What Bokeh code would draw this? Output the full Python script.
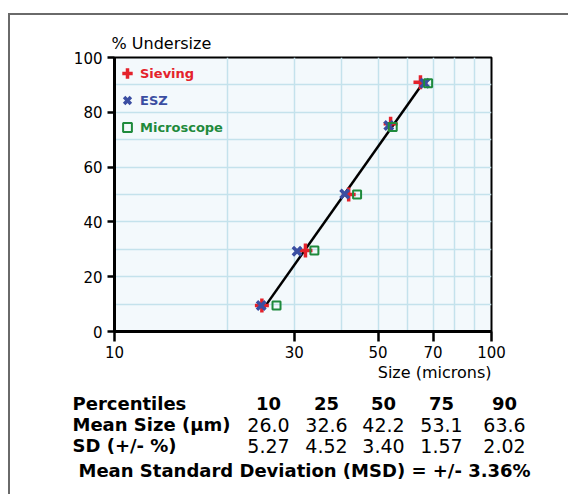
from bokeh.plotting import figure
from bokeh.layouts import column
from bokeh.models import (Range1d, FixedTicker, NumeralTickFormatter, Legend, LegendItem,
                          Title, ColumnDataSource)
from bokeh.core.properties import value
from bokeh.embed import file_html
from bokeh.resources import INLINE

# ---------------- data ----------------
sieving_size = [24.6, 32.1, 41.8, 54.0, 64.8]
sieving_pct = [9.5, 29.6, 50.0, 75.8, 91.0]
esz_size = [24.5, 30.5, 40.8, 53.4, 66.5]
esz_pct = [9.5, 29.3, 50.2, 75.2, 90.6]
micro_size = [26.9, 33.9, 44.0, 54.7, 67.9]
micro_pct = [9.5, 29.6, 50.0, 74.6, 90.6]
fit_size = [25.0, 65.6]
fit_pct = [8.9, 90.4]

x_ticks = [10, 30, 50, 70, 100]
x_grid = [20, 30, 40, 50, 60, 70, 80, 90]
y_ticks = [0, 20, 40, 60, 80, 100]
y_grid = [10, 20, 30, 40, 50, 60, 70, 80, 90]

percentiles = ["10", "25", "50", "75", "90"]
mean_size = ["26.0", "32.6", "42.2", "53.1", "63.6"]
sd_pct = ["5.27", "4.52", "3.40", "1.57", "2.02"]
row_heads = ["Percentiles", "Mean Size (\u03bcm)", "SD (+/- %)"]
msd_text = "Mean Standard Deviation (MSD) = +/- 3.36%"

RED, BLUE, GREEN = "#e4222b", "#3b4ea2", "#1f8a3c"
FONT = "DejaVu Sans"

# ---------------- layout (page pixels) ----------------
OX, OY = 10, 15            # inner origin of the bordered box
W1, H1 = 558, 370          # chart canvas
W2, H2 = 558, 109          # table canvas
F_L, F_R, F_T, F_B = 114, 491, 57, 331   # plot frame, page px

p = figure(width=W1, height=H1, x_axis_type="log", output_backend="svg",
           toolbar_location=None, x_range=Range1d(10, 100), y_range=Range1d(0, 100),
           min_border_left=F_L - OX, min_border_right=W1 - (F_R - OX),
           min_border_top=F_T - OY, min_border_bottom=H1 - (F_B - OY))
p.frame_align = False
p.background_fill_color = "#f3f9fc"
p.border_fill_color = "white"
p.outline_line_color = "black"
p.outline_line_width = 2

for ax in (p.xaxis[0], p.yaxis[0]):
    ax.axis_line_width = 3
    ax.axis_line_color = "black"
    ax.major_tick_line_width = 2.5
    ax.major_tick_in = 0
    ax.minor_tick_line_color = None
    ax.major_label_text_font = FONT
    ax.major_label_text_font_size = "15px"
    ax.major_label_text_color = "black"

p.xaxis.ticker = FixedTicker(ticks=x_ticks, minor_ticks=[])
p.xaxis.formatter = NumeralTickFormatter(format="0")
p.xaxis.major_tick_out = 10
p.xaxis.major_label_standoff = 4
p.yaxis.ticker = FixedTicker(ticks=y_ticks, minor_ticks=[])
p.yaxis.major_tick_out = 7
p.yaxis.major_label_standoff = 5

p.xgrid.ticker = FixedTicker(ticks=x_grid)
p.ygrid.ticker = FixedTicker(ticks=y_grid)
for g in (p.xgrid[0], p.ygrid[0]):
    g.grid_line_color = "#c4e2ec"
    g.grid_line_width = 1.5

# fitted line
p.line(fit_size, fit_pct, line_color="black", line_width=2.5)

r_s = p.scatter(sieving_size, sieving_pct, marker="cross", size=14, line_width=3.5,
                line_color=RED)
r_e = p.scatter(esz_size, esz_pct, marker="x", size=12, line_width=3.5, line_color=BLUE)
r_m = p.scatter(micro_size, micro_pct, marker="square", size=8, line_width=2,
                line_color=GREEN, fill_color=None)

frame_h = F_B - F_T
for i, (lab, rend, col, gb) in enumerate([("Sieving", r_s, RED, 26),
                                          ("ESZ", r_e, BLUE, 24),
                                          ("Microscope", r_m, GREEN, 22)]):
    cy = 73 + i * 27 - F_T            # item centre below frame top
    left = 13 - gb // 2
    leg = Legend(items=[LegendItem(label=lab, renderers=[rend])],
                 location=(left, frame_h - (cy + gb / 2)))
    leg.background_fill_alpha = 0
    leg.border_line_alpha = 0
    leg.padding = 0
    leg.margin = 0
    leg.spacing = 0
    leg.glyph_width = gb
    leg.glyph_height = gb
    leg.label_height = gb
    leg.label_standoff = 26 - left - gb
    leg.label_text_font = FONT
    leg.label_text_font_size = "13px"
    leg.label_text_font_style = "bold"
    leg.label_text_color = col
    leg.label_text_baseline = "middle"
    p.add_layout(leg)

# axis titles
t_top = Title(text="% Undersize", align="left", offset=-3, standoff=9,
              text_font=FONT, text_font_size="16px", text_font_style="normal",
              text_color="black")
p.add_layout(t_top, "above")
t_bot = Title(text="Size (microns)", align="right", offset=0, standoff=0,
              text_font=FONT, text_font_size="16px", text_font_style="normal",
              text_color="black")
p.add_layout(t_bot, "below")

# ---------------- table ----------------
q = figure(width=W2, height=H2, output_backend="svg", toolbar_location=None,
           x_range=Range1d(0, W2), y_range=Range1d(H2, 0),
           x_axis_location=None, y_axis_location=None,
           min_border=0, min_border_left=0, min_border_right=0,
           min_border_top=0, min_border_bottom=0)
q.frame_align = False
q.outline_line_color = None
q.grid.visible = False
q.background_fill_color = "white"
q.border_fill_color = "white"

top2 = OY + H1               # page y of table canvas top
col_cx = [c - OX for c in [268, 326, 383, 441, 504]]
row_mid = [r - top2 for r in [403, 424, 445]]
head_x = 72 - OX

q.text(x=[head_x] * 3, y=row_mid, text=row_heads, text_font=value(FONT),
       text_font_size="18px", text_font_style="bold", text_baseline="middle",
       text_align="left", text_color="black")
for rm, vals, style, fs in zip(row_mid, [percentiles, mean_size, sd_pct],
                               ["bold", "normal", "normal"], ["18px", "19px", "19px"]):
    src = ColumnDataSource(dict(x=col_cx, y=[rm] * len(vals), t=vals))
    q.text(x="x", y="y", text="t", source=src, text_font=value(FONT),
           text_font_size=fs, text_font_style=style, text_align="center",
           text_baseline="middle", text_color="black")
q.text(x=[78 - OX], y=[470 - top2], text=[msd_text], text_font=value(FONT),
       text_font_size="18px", text_font_style="bold", text_baseline="middle",
       text_align="left", text_color="black")

layout = column(p, q, margin=(13, 0, 0, 8), spacing=0,
                styles={"border-left": "2px solid #6a6a6a",
                        "border-top": "2px solid #6a6a6a"})

open("out.html", "w").write(file_html(layout, INLINE))
